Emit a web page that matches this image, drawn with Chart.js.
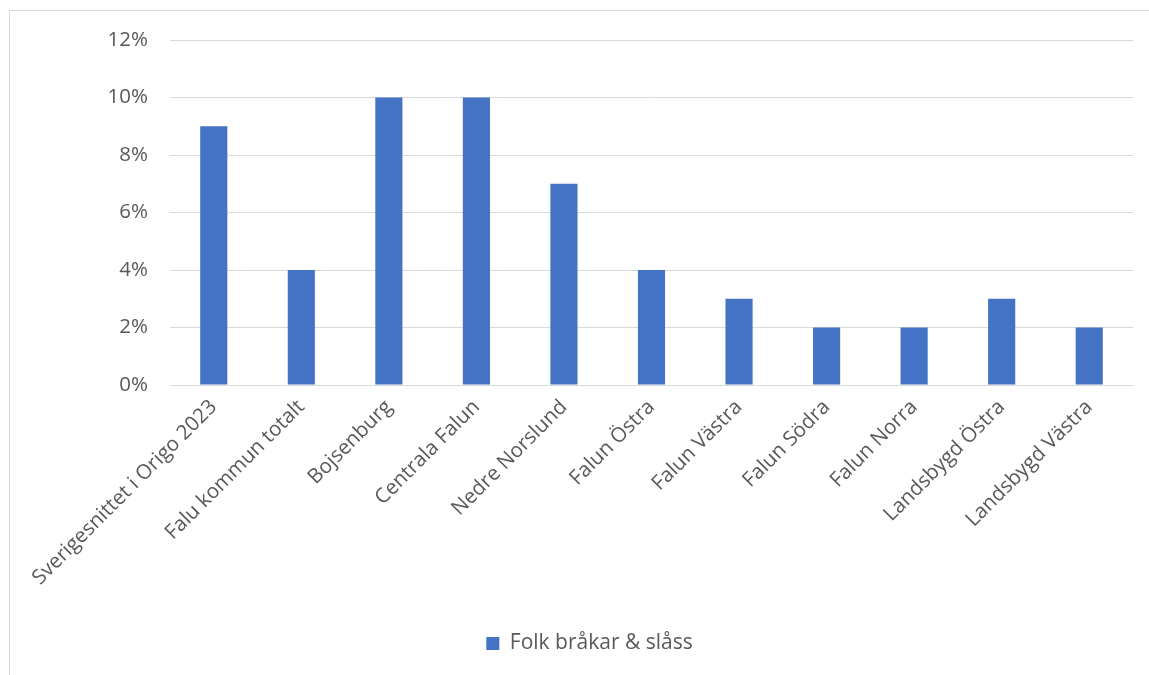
<!DOCTYPE html>
<html>
<head>
<meta charset="utf-8">
<script src="https://cdn.jsdelivr.net/npm/chart.js@4"></script>
<style>
  html, body { margin: 0; padding: 0; background: #fff; overflow: hidden; }
  #frame { position: absolute; left: 9px; top: 10px; width: 1200px; height: 700px; border: 1px solid #d9d9d9; }
  #wrap { position: absolute; left: 0; top: 0; width: 1149px; height: 675px; }
</style>
</head>
<body>
<div id="frame"></div>
<div id="wrap"><canvas id="chart"></canvas></div>
<script>
// kategorier och värden (procent)
var kategorier = ['Sverigesnittet i Origo 2023', 'Falu kommun totalt', 'Bojsenburg', 'Centrala Falun', 'Nedre Norslund',
  'Falun Östra', 'Falun Västra', 'Falun Södra', 'Falun Norra', 'Landsbygd Östra', 'Landsbygd Västra'];
var varden = [9, 4, 10, 10, 7, 4, 3, 2, 2, 3, 2];
var serieNamn = 'Folk bråkar & slåss';
var yTicks = [0, 2, 4, 6, 8, 10, 12];

var textFarg = '#595959';
var fontFamilj = '"Open Sans", sans-serif';

var ctx = document.getElementById('chart');
var myChart = new Chart(ctx, {
  type: 'bar',
  data: {
    labels: kategorier,
    datasets: [{
      label: serieNamn,
      data: varden,
      backgroundColor: '#4472C4',
      borderWidth: 0,
      categoryPercentage: 1,
      barPercentage: 0.31
    }]
  },
  options: {
    responsive: true,
    maintainAspectRatio: false,
    animation: false,
    // vänster padding flyttar legenden åt höger, y-axeln kompenserar
    layout: { padding: { top: 40, left: 46, right: 16, bottom: 11 } },
    plugins: {
      tooltip: { enabled: false },
      legend: {
        position: 'bottom',
        labels: {
          color: textFarg,
          font: { family: fontFamilj, size: 21 },
          boxWidth: 13,
          boxHeight: 13,
          padding: 10
        }
      }
    },
    scales: {
      x: {
        grid: { display: false, drawTicks: false },
        border: { color: '#d9d9d9', width: 1 },
        ticks: {
          color: textFarg,
          font: { family: fontFamilj, size: 20.5 },
          minRotation: 45,
          maxRotation: 45,
          autoSkip: false,
          padding: 10
        },
        afterFit: function (scale) { scale.height = 238; }
      },
      y: {
        min: 0,
        max: 12,
        afterBuildTicks: function (scale) {
          scale.ticks = yTicks.map(function (v) { return { value: v }; });
        },
        grid: { color: '#d9d9d9', lineWidth: 1, drawTicks: false },
        border: { display: false },
        ticks: {
          color: textFarg,
          font: { family: fontFamilj, size: 20.5 },
          padding: 22,
          callback: function (v) { return v + '%'; }
        },
        afterFit: function (scale) { scale.width = 124; }
      }
    }
  }
});
</script>
</body>
</html>
